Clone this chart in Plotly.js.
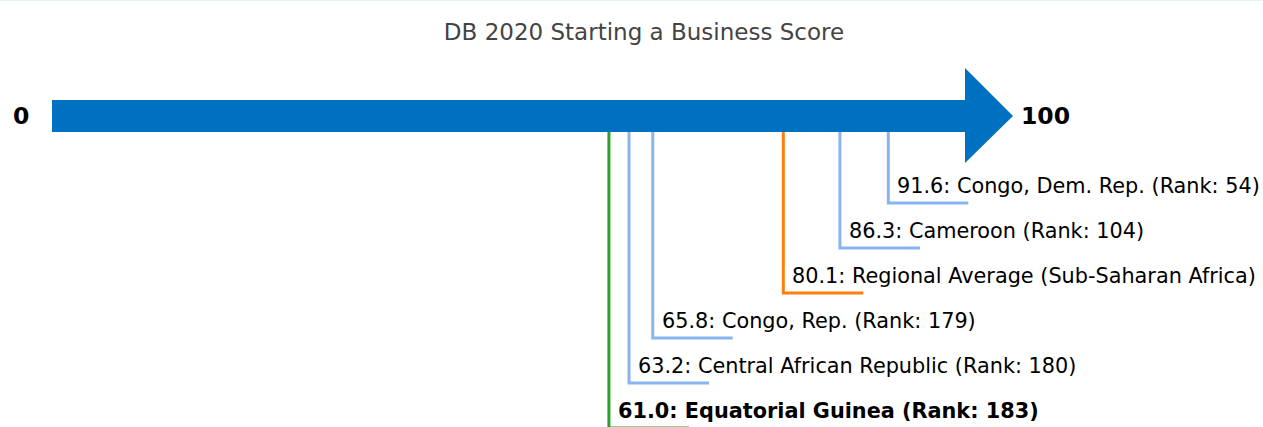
<!DOCTYPE html>
<html>
<head>
<meta charset="utf-8">
<script src="https://cdn.plot.ly/plotly-3.0.1.min.js"></script>
<style>html,body{margin:0;padding:0;background:#fff;}#chart{width:1263px;height:427px;}</style>
</head>
<body>
<div id="chart"></div>
<script>
// ---- data ----
const countries = ["Congo, Dem. Rep.", "Cameroon", "Regional Average (Sub-Saharan Africa)", "Congo, Rep.", "Central African Republic", "Equatorial Guinea"];
const scores = [91.6, 86.3, 80.1, 65.8, 63.2, 61.0];
const ranks = [54, 104, null, 179, 180, 183];
const kinds = ["peer", "peer", "region", "peer", "peer", "focus"];
const scaleMin = 0;
const scaleMax = 100;
const chartTitle = "DB 2020 Starting a Business Score";

// ---- styling ----
const PX_PER_UNIT = 9.13;     // pixels per score unit
const ORIGIN_PX = 52;         // pixel of score 0
const W = 1263, H = 427;
const colors = {peer: "#8ab4ee", region: "#ff7f0e", focus: "#2ca02c"};
const arrowColor = "#0070c0";
const shaftTop = 100, shaftBot = 132, headTop = 68, headBot = 163, midY = 116;
const headLen = 48 / PX_PER_UNIT;
const legLen = 80 / PX_PER_UNIT;
const firstLevel = 203, levelStep = 45;
const font = "DejaVu Sans, Verdana, sans-serif";

const traces = [];
const annotations = [];

scores.forEach((s, i) => {
  const lvl = firstLevel + i * levelStep;
  traces.push({
    type: "scatter", mode: "lines",
    x: [s, s, s + legLen], y: [midY, lvl, lvl],
    line: {color: colors[kinds[i]], width: 3, shape: "linear"},
    hoverinfo: "skip", showlegend: false
  });
  let txt = s.toFixed(1) + ": " + countries[i] + (ranks[i] !== null ? " (Rank: " + ranks[i] + ")" : "");
  if (kinds[i] === "focus") txt = "<b>" + txt + "</b>";
  annotations.push({
    x: s, y: lvl - 17, xref: "x", yref: "y", text: txt, showarrow: false,
    xanchor: "left", yanchor: "middle", xshift: 7,
    font: {family: font, size: 20.8, color: "#000"}
  });
});

// arrow (drawn last so it sits on top of the connectors)
traces.push({
  type: "scatter", mode: "lines", fill: "toself", fillcolor: arrowColor,
  x: [scaleMin, scaleMax, scaleMax, scaleMax + headLen, scaleMax, scaleMax, scaleMin, scaleMin],
  y: [shaftTop, shaftTop, headTop, midY, headBot, shaftBot, shaftBot, shaftTop],
  line: {color: arrowColor, width: 0}, hoverinfo: "skip", showlegend: false
});

annotations.push({
  x: scaleMin, y: midY, xref: "x", yref: "y", text: "<b>" + scaleMin + "</b>", showarrow: false,
  xanchor: "center", yanchor: "middle", xshift: -31,
  font: {family: font, size: 23.5, color: "#000"}
});
annotations.push({
  x: scaleMax + headLen, y: midY, xref: "x", yref: "y", text: "<b>" + scaleMax + "</b>", showarrow: false,
  xanchor: "left", yanchor: "middle", xshift: 6,
  font: {family: font, size: 23.5, color: "#000"}
});

const layout = {
  width: W, height: H,
  margin: {l: 0, r: 0, t: 0, b: 0, pad: 0},
  paper_bgcolor: "#fff", plot_bgcolor: "#fff",
  title: {text: chartTitle, x: 644 / W, xanchor: "center", y: 1 - 32 / H, yanchor: "middle",
          font: {family: font, size: 23, color: "#444"}},
  xaxis: {range: [-ORIGIN_PX / PX_PER_UNIT, (W - ORIGIN_PX) / PX_PER_UNIT], visible: false, fixedrange: true},
  yaxis: {range: [H, 0], visible: false, fixedrange: true},
  annotations: annotations,
  shapes: [{type: "line", xref: "paper", yref: "paper", x0: 0, x1: 1, y0: 1, y1: 1,
            line: {color: "#e8f0fa", width: 2}}],
  showlegend: false
};

Plotly.newPlot("chart", traces, layout, {displayModeBar: false, staticPlot: true});
</script>
</body>
</html>
